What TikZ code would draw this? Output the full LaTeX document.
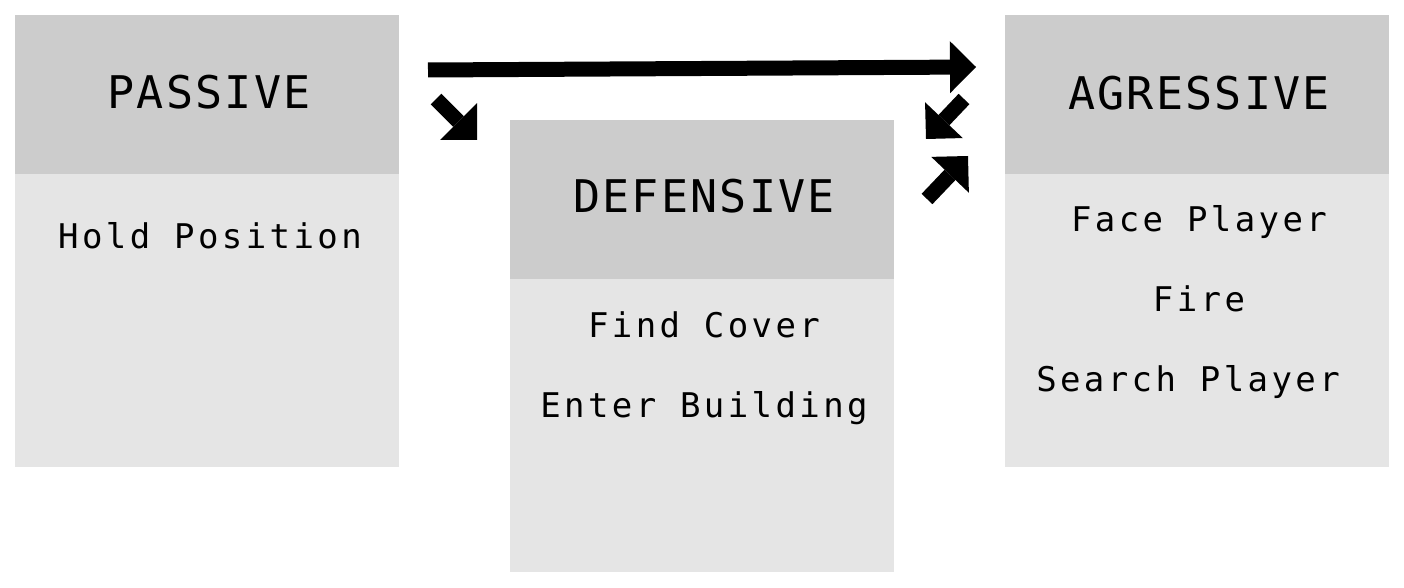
\documentclass[tikz,border=0pt]{standalone}
\usepackage{fontspec}
\newfontfamily\hfont[LetterSpace=5]{DejaVu Sans Mono}
\newfontfamily\bfont[LetterSpace=10]{DejaVu Sans Mono}
\usetikzlibrary{arrows.meta}
\definecolor{hdr}{HTML}{CCCCCC}
\definecolor{bdy}{HTML}{E5E5E5}
\tikzset{
  hdrbox/.style={fill=hdr, draw=none, inner sep=0pt, anchor=north west,
    minimum width=192pt, minimum height=79.5pt},
  bdybox/.style={fill=bdy, draw=none, inner sep=0pt, anchor=north west,
    minimum width=192pt, minimum height=146.5pt},
  title/.style={inner sep=0pt, font=\hfont\fontsize{22.5}{26}\selectfont},
  item/.style={inner sep=0pt, anchor=base, font=\bfont\fontsize{17}{20}\selectfont},
  bigarrow/.style={line width=7.5pt, -{Triangle[length=13pt,width=26pt,line width=0pt]}}
}
\begin{document}
\begin{tikzpicture}[x=0.5pt,y=-0.5pt]
\useasboundingbox (0,0) rectangle (1404,588);
% PASSIVE
\node[hdrbox] (ph) at (15,15) {};
\node[bdybox] (pb) at (15,174) {};
\node[title] (pt) at (209,92) {PASSIVE};
\node[item] (p1) at (210,249) {Hold Position};
% DEFENSIVE
\node[hdrbox] (dh) at (510,120) {};
\node[bdybox] (db) at (510,279) {};
\node[title] (dt) at (704,196) {DEFENSIVE};
\node[item] (d1) at (704,338) {Find Cover};
\node[item] (d2) at (704,417) {Enter Building};
% AGRESSIVE
\node[hdrbox] (ah) at (1005,15) {};
\node[bdybox] (ab) at (1005,174) {};
\node[title] (at) at (1199,93) {AGRESSIVE};
\node[item] (a1) at (1199,232) {Face Player};
\node[item] (a2) at (1199,312) {Fire};
\node[item] (a3) at (1188,392) {Search Player};
% arrows
\coordinate (l1) at (428,70);
\coordinate (l2) at (976,67);
\coordinate (s1) at (436,99);
\coordinate (s2) at (477,140);
\coordinate (r1) at (964,99);
\coordinate (r2) at (926,139);
\coordinate (u1) at (927,199);
\coordinate (u2) at (968,156);
\draw[bigarrow] (l1) -- (l2);
\draw[bigarrow] (s1) -- (s2);
\draw[bigarrow] (r1) -- (r2);
\draw[bigarrow] (u1) -- (u2);
\end{tikzpicture}
\end{document}
